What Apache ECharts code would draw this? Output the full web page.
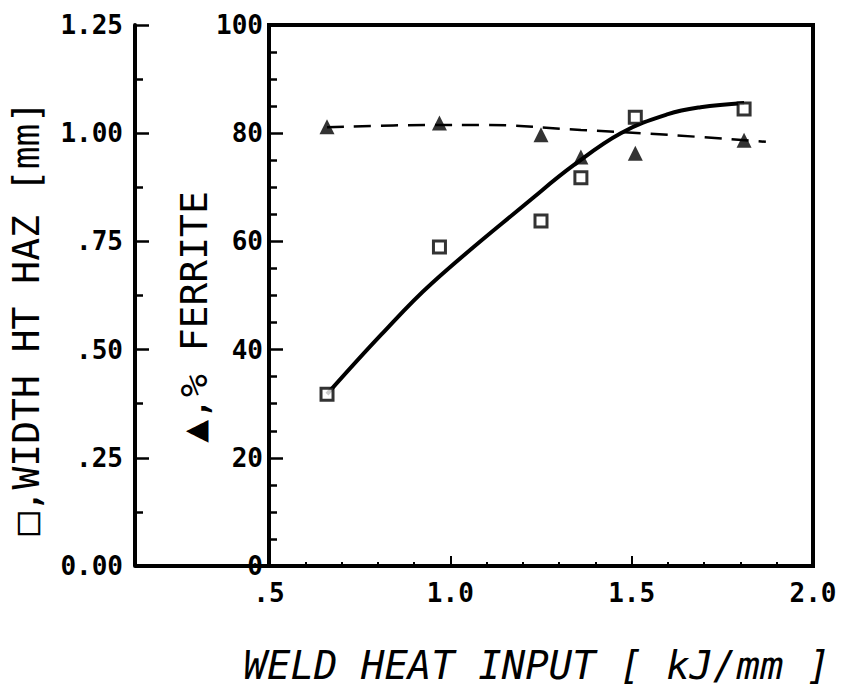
<!DOCTYPE html>
<html>
<head>
<meta charset="utf-8">
<script src="https://cdn.jsdelivr.net/npm/echarts@6/dist/echarts.min.js"></script>
<style>
  html, body { margin: 0; padding: 0; background: #fff; }
  #chart { width: 841px; height: 693px; }
</style>
</head>
<body>
<div id="chart"></div>
<script>
(function() {
  'use strict';

  var ink = '#000';
  var mono = '"DejaVu Sans Mono", "Liberation Mono", monospace';

  // ========== Data ==========
  var heatInput = [0.66, 0.97, 1.25, 1.36, 1.51, 1.81];
  var ferrite = [81.2, 81.9, 79.7, 75.6, 76.3, 78.7];
  var hazWidth = [0.397, 0.737, 0.797, 0.897, 1.037, 1.056];

  // fitted curves
  var ferriteFitX = [0.66, 0.93, 1.10, 1.36, 1.60, 1.87];
  var ferriteFitY = [81.1, 81.5, 81.5, 80.6, 79.7, 78.4];
  var hazFitX = [0.66, 0.81, 0.95, 1.23, 1.34, 1.47, 1.60, 1.69, 1.81];
  var hazFitY = [0.397, 0.535, 0.654, 0.852, 0.926, 1.000, 1.044, 1.060, 1.070];

  var xTicks = ['.5', '1.0', '1.5', '2.0'];

  function pairs(xs, ys) {
    return xs.map(function(x, i) { return [x, ys[i]]; });
  }

  var chart = echarts.init(document.getElementById('chart'), null, { renderer: 'svg' });
  chart.setOption({
    animation: false,
    backgroundColor: '#fff',
    grid: {
      left: 269, right: 28, top: 25, bottom: 127,
      show: true, borderColor: ink, borderWidth: 4, backgroundColor: 'transparent'
    },
    xAxis: {
      type: 'value',
      min: 0.5, max: 2.0, interval: 0.5,
      axisLine: { lineStyle: { color: ink, width: 4 } },
      axisTick: { inside: true, length: 10, lineStyle: { color: ink, width: 2 } },
      minorTick: { show: true, splitNumber: 5, length: 4, lineStyle: { color: ink, width: 2 } },
      splitLine: { show: false },
      axisLabel: {
        color: ink, fontFamily: mono, fontSize: 26, fontWeight: 'bold', margin: 14,
        formatter: function(v) {
          var i = Math.round((v - 0.5) / 0.5);
          return xTicks[i] || '';
        }
      }
    },
    yAxis: [{
      type: 'value',
      min: 0, max: 100, interval: 20,
      position: 'left',
      axisLine: { show: true, lineStyle: { color: ink, width: 4 } },
      axisTick: { inside: true, length: 14, lineStyle: { color: ink, width: 2.5 } },
      minorTick: { show: true, splitNumber: 4, length: 8, lineStyle: { color: ink, width: 2.5 } },
      splitLine: { show: false },
      axisLabel: { color: ink, fontFamily: mono, fontSize: 26, fontWeight: 'bold', margin: 6 }
    }, {
      type: 'value',
      min: 0, max: 1.25, interval: 0.25,
      position: 'left',
      offset: 134,
      axisLine: { show: true, lineStyle: { color: ink, width: 4 } },
      axisTick: { inside: true, length: 14, lineStyle: { color: ink, width: 2.5 } },
      minorTick: { show: true, splitNumber: 2, length: 8, lineStyle: { color: ink, width: 2.5 } },
      splitLine: { show: false },
      axisLabel: {
        color: ink, fontFamily: mono, fontSize: 26, fontWeight: 'bold', margin: 12,
        formatter: function(v) {
          var s = v.toFixed(2);
          return (v > 0 && v < 1) ? s.slice(1) : s;
        }
      }
    }],
    graphic: [
      // bottom rule of the outer (mm) axis
      { type: 'line', shape: { x1: 135, y1: 566, x2: 269, y2: 566 }, style: { stroke: ink, lineWidth: 4 } },
      {
        type: 'text', x: 26, y: 318, rotation: Math.PI / 2,
        style: { text: '\u25a1,WIDTH HT HAZ [mm]', font: '38px ' + mono, fill: ink, align: 'center', verticalAlign: 'middle' }
      },
      {
        type: 'text', x: 194, y: 317, rotation: Math.PI / 2,
        style: { text: '\u25b2,% FERRITE', font: '38px ' + mono, fill: ink, align: 'center', verticalAlign: 'middle' }
      },
      {
        type: 'text', x: 537, y: 665,
        style: { text: 'WELD HEAT INPUT [ kJ/mm ]', font: 'italic 39px ' + mono, fill: ink, align: 'center', verticalAlign: 'middle' }
      }
    ],
    series: [{
      name: 'ferrite fit',
      type: 'line',
      yAxisIndex: 0,
      data: pairs(ferriteFitX, ferriteFitY),
      smooth: 0.4,
      symbol: 'none',
      lineStyle: { color: ink, width: 2.5, type: [17, 10] },
      z: 2
    }, {
      name: 'HAZ fit',
      type: 'line',
      yAxisIndex: 1,
      data: pairs(hazFitX, hazFitY),
      smooth: 0.4,
      symbol: 'none',
      lineStyle: { color: ink, width: 4 },
      z: 2
    }, {
      name: '% ferrite',
      type: 'scatter',
      yAxisIndex: 0,
      data: pairs(heatInput, ferrite),
      symbol: 'triangle',
      symbolSize: 15,
      itemStyle: { color: ink },
      z: 3
    }, {
      name: 'width HT HAZ',
      type: 'scatter',
      yAxisIndex: 1,
      data: pairs(heatInput, hazWidth),
      symbol: 'rect',
      symbolSize: 12,
      itemStyle: { color: '#fff', borderColor: ink, borderWidth: 3 },
      z: 4
    }]
  });
  window.addEventListener('resize', function() { chart.resize(); });
})();
</script>
</body>
</html>
